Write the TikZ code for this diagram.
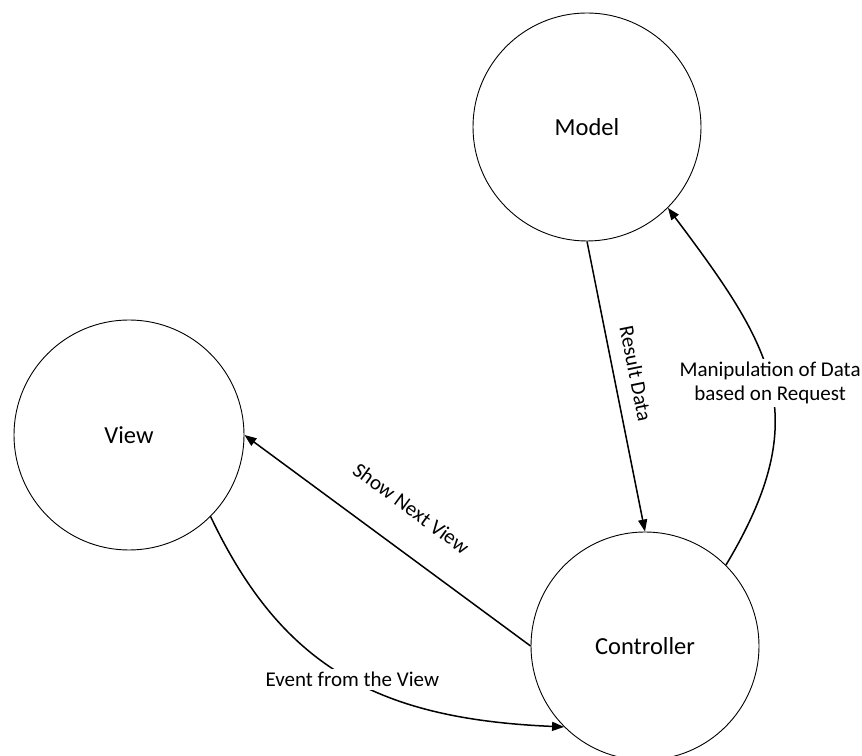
\documentclass[tikz,border=0pt]{standalone}
\usepackage{fontspec}
\setmainfont{Carlito}
\usetikzlibrary{arrows.meta}

\tikzset{
  part/.style={draw, circle, line width=0.9pt, minimum size=228pt, inner sep=0pt,
               font=\fontsize{24.5}{28}\selectfont},
  flow/.style={line width=1.5pt, -{Triangle[length=12pt,width=9pt]}},
  flowlabel/.style={font=\fontsize{21}{24.5}\selectfont, inner sep=1pt},
}

\begin{document}
\begin{tikzpicture}[x=1pt,y=1pt]
  \useasboundingbox (0,0) rectangle (862,755);

  % the three parts of the pattern
  \node[part] (model) at (587,628) {Model};
  \node[part, minimum size=230pt] (view) at (129,320) {View};
  \node[part] (ctrl) at (645,109) {Controller};

  % model hands its result back to the controller
  \draw[flow] (model.south) -- (ctrl.north)
    node[flowlabel, pos=0.47, sloped, above=13pt] {Result Data};

  % controller asks the model to change its data
  \draw[flow] (ctrl.north east) .. controls (816,340) and (773,407) .. (model.south east)
    node[flowlabel, pos=0.5, fill=white, align=center, inner sep=3pt]
    {Manipulation of Data\\based on Request};

  % controller selects the next view
  \draw[flow] (ctrl.west) -- (view.east)
    node[flowlabel, pos=0.50, sloped, above=31pt] {Show Next View};

  % the view reports an event to the controller
  \draw[flow] (view.south east) .. controls (283,86) and (380,36) .. (ctrl.south west)
    node[flowlabel, pos=0.52, fill=white, inner sep=3pt] {Event from the View};
\end{tikzpicture}
\end{document}
